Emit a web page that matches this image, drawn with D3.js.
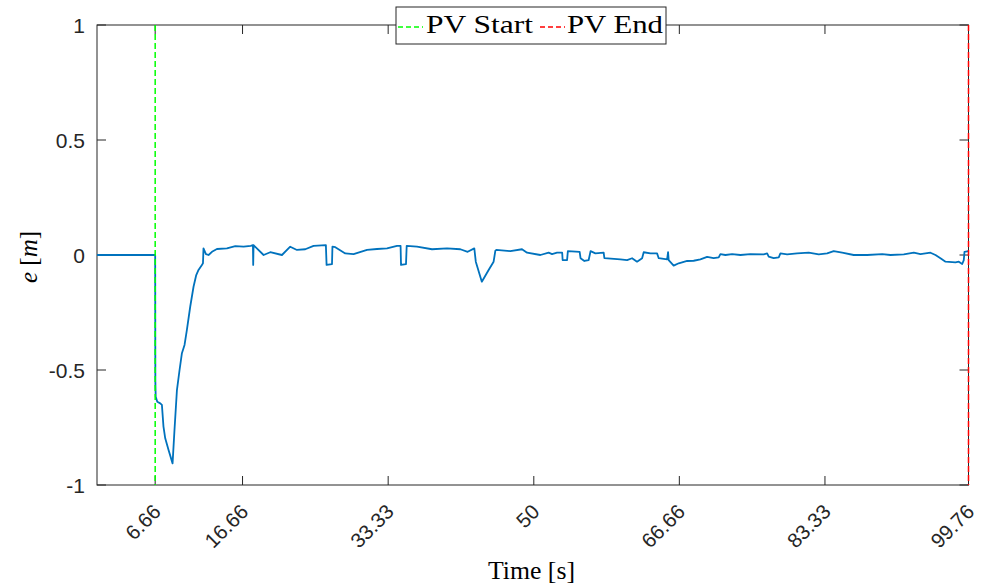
<!DOCTYPE html>
<html><head><meta charset="utf-8">
<script src="https://cdn.jsdelivr.net/npm/d3@7"></script>
<style>body{margin:0;background:#fff}svg{display:block}</style>
</head><body>
<svg id="c" width="984" height="587"></svg>
<script>
const timeS = [0,6.66,6.68,6.72,6.9,7.24,7.43,7.61,7.81,8.19,8.65,8.87,9.15,9.45,9.72,10.02,10.29,10.67,11.05,11.36,11.62,12.01,12.13,12.19,12.47,12.77,13.16,13.73,14.87,15.83,16.78,17.6,17.85,17.88,17.92,18.0,19.07,19.83,21.17,22.12,22.89,23.84,24.79,26.2,26.28,26.9,26.95,27.28,28.42,29.37,30.91,32.05,33.2,34.34,34.75,34.8,35.37,35.45,36.63,38.35,40.07,41.59,42.43,43.19,43.36,44.05,44.83,45.4,45.6,45.71,47.31,48.65,49.23,50.75,51.7,52.09,52.66,53.25,53.3,53.81,53.9,55.25,55.35,55.79,56.28,56.5,57.05,58.0,58.08,59.91,60.68,61.25,61.82,62.4,62.58,63.35,64.11,64.3,65.26,65.37,65.44,66.01,66.59,67.55,68.3,69.07,69.84,70.59,71.17,71.36,71.93,72.7,73.65,74.79,76.32,76.71,76.89,77.46,78.04,78.23,79.0,80.14,81.47,82.62,83.58,84.33,85.3,86.62,88.16,89.88,90.83,92.35,93.5,94.26,95.41,95.98,96.55,97.13,98.27,98.65,99.04,99.22,99.3,99.76];
const errorM = [0,0,-0.55,-0.616,-0.638,-0.645,-0.652,-0.746,-0.797,-0.848,-0.906,-0.761,-0.587,-0.5,-0.427,-0.391,-0.326,-0.225,-0.138,-0.087,-0.065,-0.043,-0.036,0.029,0.004,0.0,0.014,0.026,0.029,0.039,0.036,0.04,0.043,-0.043,0.043,0.04,0.0,0.012,0.0,0.036,0.022,0.025,0.04,0.043,-0.043,-0.04,0.036,0.034,0.007,0.004,0.022,0.026,0.029,0.04,0.04,-0.043,-0.04,0.04,0.036,0.025,0.029,0.025,0.014,0.029,-0.029,-0.116,-0.065,-0.029,0.019,0.022,0.017,0.025,0.01,0.0,0.01,0.004,0.01,0.01,-0.022,-0.022,0.017,0.014,-0.014,-0.026,-0.022,0.017,0.007,0.01,-0.014,-0.019,-0.022,-0.014,-0.029,-0.014,0.012,0.007,0.007,-0.014,-0.019,0.012,-0.022,-0.046,-0.036,-0.026,-0.025,-0.019,-0.008,-0.014,-0.01,0.004,0.0,0.004,0.0,0.004,0.003,0.007,-0.007,-0.014,-0.01,0.007,0.003,0.007,0.01,0.003,0.007,0.017,0.01,0.0,0.0,0.004,0.0,0.003,0.01,0.004,0.01,0.0,-0.014,-0.029,-0.032,-0.029,-0.039,-0.022,0.014,0.017];
const xTicks = [6.66,16.66,33.33,50,66.66,83.33,99.76];
const xTickLabels = ["6.66","16.66","33.33","50","66.66","83.33","99.76"];
const yTicks = [-1,-0.5,0,0.5,1];
const yTickLabels = ["-1","-0.5","0","0.5","1"];
const pvStart = 6.66, pvEnd = 99.76;
const legendLabels = ["PV Start","PV End"];
const legendColors = ["#00ff00","#ff0000"];

const svg = d3.select("#c");
const L = 97, R = 968.5, T = 25, B = 485;
const x = d3.scaleLinear().domain([0, 99.76]).range([L, R]);
const y = d3.scaleLinear().domain([-1, 1]).range([B, T]);
const axisCol = "#262626";
const tickFont = "'Liberation Sans', Arial, Helvetica, sans-serif";
const serif = "'Liberation Serif', 'DejaVu Serif', serif";

// box + ticks
const g = svg.append("g");
g.append("rect").attr("x",L).attr("y",T).attr("width",R-L).attr("height",B-T)
  .attr("fill","none").attr("stroke",axisCol).attr("stroke-width",1);
const tl = 9;
xTicks.forEach(v=>{
  g.append("line").attr("x1",x(v)).attr("x2",x(v)).attr("y1",B).attr("y2",B-tl).attr("stroke",axisCol);
  g.append("line").attr("x1",x(v)).attr("x2",x(v)).attr("y1",T).attr("y2",T+tl).attr("stroke",axisCol);
});
yTicks.forEach(v=>{
  g.append("line").attr("x1",L).attr("x2",L+tl).attr("y1",y(v)).attr("y2",y(v)).attr("stroke",axisCol);
  g.append("line").attr("x1",R).attr("x2",R-tl).attr("y1",y(v)).attr("y2",y(v)).attr("stroke",axisCol);
});

// data line
const line = d3.line().x((d,i)=>x(timeS[i])).y((d,i)=>y(errorM[i]));
svg.append("path").datum(errorM).attr("d", line)
  .attr("fill","none").attr("stroke","#0072bd").attr("stroke-width",1.8).attr("stroke-linejoin","round");

// PV lines
[[pvStart,legendColors[0]],[pvEnd,legendColors[1]]].forEach(([v,c])=>{
  svg.append("line").attr("x1",x(v)).attr("x2",x(v)).attr("y1",T).attr("y2",B)
    .attr("stroke",c).attr("stroke-width",1.5).attr("stroke-dasharray","6,3");
});

// y tick labels
yTicks.forEach((v,i)=>{
  g.append("text").attr("x",85).attr("y",y(v)).attr("dy","0.36em").attr("text-anchor","end")
    .attr("font-family",tickFont).attr("font-size",21).attr("fill",axisCol).text(yTickLabels[i]);
});
// x tick labels rotated
xTicks.forEach((v,i)=>{
  g.append("text").attr("transform",`translate(${x(v)+7},${513}) rotate(-45)`)
    .attr("text-anchor","end")
    .attr("font-family",tickFont).attr("font-size",20.5).attr("fill",axisCol).text(xTickLabels[i]);
});
// axis labels
svg.append("text").attr("x",531.5).attr("y",579).attr("text-anchor","middle")
  .attr("font-family",serif).attr("font-size",25).attr("fill","#000")
  .attr("textLength",87).attr("lengthAdjust","spacingAndGlyphs").text("Time [s]");
const yl = svg.append("text").attr("transform",`translate(37,257) rotate(-90)`).attr("text-anchor","middle")
  .attr("font-family",serif).attr("font-size",25).attr("fill","#000");
yl.append("tspan").attr("font-style","italic").text("e");
yl.append("tspan").text(" [");
yl.append("tspan").attr("font-style","italic").text("m");
yl.append("tspan").text("]");

// legend
const lg = svg.append("g");
lg.append("rect").attr("x",396).attr("y",7).attr("width",270).attr("height",37)
  .attr("fill","#fff").attr("stroke",axisCol).attr("stroke-width",1);
const items = [{x0:398,x1:423,tx:426,w:107},{x0:540,x1:565,tx:567,w:96}];
items.forEach((it,i)=>{
  lg.append("line").attr("x1",it.x0).attr("x2",it.x1).attr("y1",27).attr("y2",27)
    .attr("stroke",legendColors[i]).attr("stroke-width",1.5).attr("stroke-dasharray","5,3");
  lg.append("text").attr("x",it.tx).attr("y",33).attr("font-family",serif).attr("font-size",25)
    .attr("textLength",it.w).attr("lengthAdjust","spacingAndGlyphs")
    .attr("fill","#000").text(legendLabels[i]);
});
</script>
</body></html>
